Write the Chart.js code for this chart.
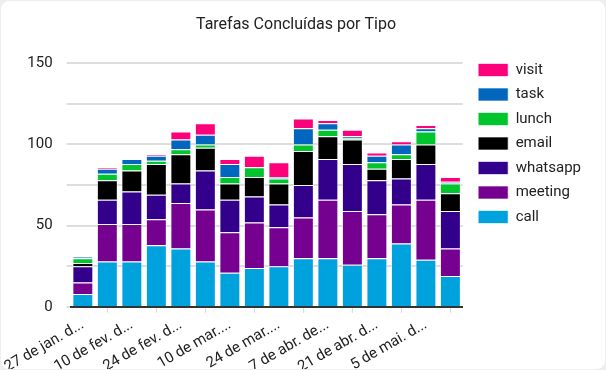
<!DOCTYPE html>
<html>
<head>
<meta charset="utf-8">
<script src="https://cdn.jsdelivr.net/npm/chart.js@4"></script>
<style>
  html, body { margin: 0; padding: 0; background: #eeeeee; }
  .card {
    position: absolute; left: 1px; top: 1px; width: 604px; height: 368px;
    background: #fff; border-radius: 8px; overflow: hidden;
  }
  .card canvas { position: absolute; left: 0; top: 0; }
</style>
</head>
<body>
<div class="card"><canvas id="tiposChart" width="604" height="368"></canvas></div>
<script>
// semanas (uma barra por semana)
var semanas = ['27 de jan. de 2025', '3 de fev. de 2025', '10 de fev. de 2025', '17 de fev. de 2025',
    '24 de fev. de 2025', '3 de mar. de 2025', '10 de mar. de 2025', '17 de mar. de 2025',
    '24 de mar. de 2025', '31 de mar. de 2025', '7 de abr. de 2025', '14 de abr. de 2025',
    '21 de abr. de 2025', '28 de abr. de 2025', '5 de mai. de 2025', '12 de mai. de 2025'];
// rótulos como aparecem no eixo (cortados)
var rotulosEixo = ['27 de jan. d...', '3 de fev. d...', '10 de fev. d...', '17 de fev. d...',
    '24 de fev. d...', '3 de mar. d...', '10 de mar....', '17 de mar....',
    '24 de mar....', '31 de mar....', '7 de abr. de...', '14 de abr. d...',
    '21 de abr. d...', '28 de abr. d...', '5 de mai. d...', '12 de mai. d...'];

var call     = [8, 28, 28, 38, 36, 28, 21, 24, 25, 30, 30, 26, 30, 39, 29, 19];
var meeting  = [7, 23, 23, 16, 28, 32, 25, 28, 24, 25, 36, 33, 27, 24, 37, 17];
var whatsapp = [10, 15, 20, 15, 12, 24, 20, 16, 14, 20, 25, 29, 21, 16, 22, 23];
var email    = [2, 12, 13, 19, 18, 14, 10, 12, 13, 21, 14, 15, 7, 12, 12, 11];
var lunch    = [3, 4, 4, 2, 3, 2, 4, 6, 3, 4, 4, 1, 4, 3, 8, 6];
var task     = [1, 3, 3, 3, 6, 6, 8, 0, 1, 10, 4, 1, 4, 6, 2, 1];
var visit    = [0, 1, 0, 1, 5, 7, 3, 7, 9, 6, 2, 4, 2, 2, 2, 3];

var ticksY = [0, 50, 100, 150];

/*********************** canvas ***********************/
function serie(nome, valores, cor) {
    return {
        label: nome,
        data: valores,
        backgroundColor: cor,
        borderColor: 'rgba(255,255,255,0.65)',
        borderWidth: 1,
        categoryPercentage: 0.9,
        barPercentage: 0.95
    };
}

// empurra a legenda um pouco para a direita
var legendaShift = {
    id: 'legendaShift',
    afterLayout: function (chart) {
        chart.legend.left += 6;
        chart.legend.right += 6;
    }
};

function TiposCanvas() {
    var ctx = document.getElementById('tiposChart').getContext('2d');
    var chart = new Chart(ctx, {
        type: 'bar',
        data: {
            labels: semanas,
            datasets: [
                serie('call', call, '#00a2de'),
                serie('meeting', meeting, '#76008f'),
                serie('whatsapp', whatsapp, '#33008c'),
                serie('email', email, '#000000'),
                serie('lunch', lunch, '#00c52c'),
                serie('task', task, '#0066be'),
                serie('visit', visit, '#ff007b')
            ]
        },
        plugins: [legendaShift],
        options: {
            responsive: false,
            animation: false,
            layout: { padding: { left: 6, right: 20, top: 4, bottom: 0 } },
            plugins: {
                title: {
                    display: true,
                    text: 'Tarefas Concluídas por Tipo',
                    color: '#222',
                    font: { family: 'Roboto', size: 16, weight: 'normal' },
                    padding: { top: 10, bottom: 29 }
                },
                legend: {
                    position: 'right',
                    align: 'start',
                    reverse: true,
                    // título vazio só para descer a legenda
                    title: { display: true, text: '', font: { size: 10 }, padding: { top: 36, bottom: 0 } },
                    labels: {
                        color: '#222',
                        font: { family: 'Roboto', size: 15 },
                        boxWidth: 30,
                        boxHeight: 13,
                        padding: 9.5
                    }
                },
                tooltip: { enabled: false }
            },
            scales: {
                x: {
                    stacked: true,
                    grid: { drawOnChartArea: false, color: '#ddd', tickLength: 6 },
                    border: { color: '#333', width: 2 },
                    ticks: {
                        color: '#222',
                        font: { family: 'Roboto', size: 15 },
                        autoSkip: false,
                        minRotation: 30,
                        maxRotation: 30,
                        callback: function (v, i) {
                            return i % 2 ? null : rotulosEixo[i];
                        }
                    },
                    afterFit: function (scale) {
                        scale.height = 62;
                    }
                },
                y: {
                    stacked: true,
                    min: 0,
                    max: 150,
                    grid: { color: '#dddddd', lineWidth: 2, tickLength: 4 },
                    border: { display: false },
                    ticks: {
                        stepSize: 25,
                        color: '#222',
                        font: { family: 'Roboto', size: 15 },
                        padding: 14,
                        callback: function (v) {
                            return ticksY.indexOf(v) >= 0 ? v : '';
                        }
                    }
                }
            }
        }
    });
}

TiposCanvas();
</script>
</body>
</html>
